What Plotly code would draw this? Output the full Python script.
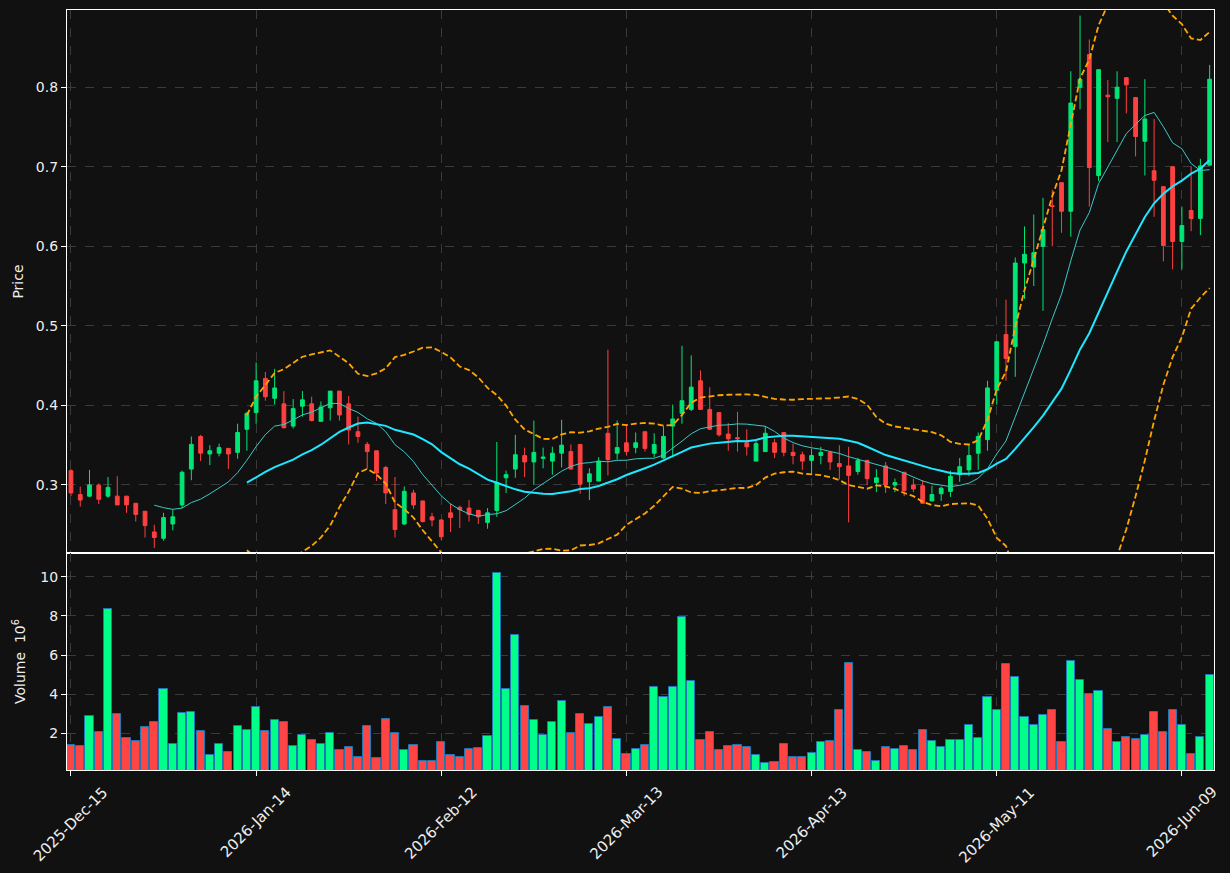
import pandas as pd
import plotly.graph_objects as go
from plotly.subplots import make_subplots

# ---- data ----
tick_labels = ["2025-Dec-15", "2026-Jan-14", "2026-Feb-12", "2026-Mar-13",
               "2026-Apr-13", "2026-May-11", "2026-Jun-09"]
tick_index = [0, 20, 40, 60, 80, 100, 120]

open_ = [0.318, 0.288, 0.286, 0.300, 0.286, 0.286, 0.286, 0.277, 0.267, 0.241,
         0.233, 0.251, 0.275, 0.320, 0.361, 0.339, 0.340, 0.346, 0.341, 0.370,
         0.391, 0.434, 0.409, 0.402, 0.374, 0.399, 0.402, 0.380, 0.397, 0.418,
         0.402, 0.367, 0.351, 0.343, 0.322, 0.269, 0.251, 0.290, 0.280, 0.260,
         0.256, 0.265, 0.272, 0.271, 0.268, 0.253, 0.268, 0.309, 0.320, 0.337,
         0.329, 0.3335, 0.330, 0.340, 0.342, 0.351, 0.304, 0.305, 0.365, 0.340,
         0.353, 0.347, 0.367, 0.340, 0.334, 0.374, 0.390, 0.395, 0.431, 0.395,
         0.391, 0.364, 0.3595, 0.353, 0.330, 0.342, 0.353, 0.366, 0.341, 0.338,
         0.331, 0.337, 0.341, 0.327, 0.324, 0.317, 0.331, 0.303, 0.324, 0.300,
         0.316, 0.300, 0.299, 0.280, 0.289, 0.292, 0.313, 0.319, 0.340, 0.357,
         0.419, 0.489, 0.474, 0.579, 0.574, 0.600, 0.651, 0.680, 0.644, 0.800,
         0.841, 0.689, 0.790, 0.786, 0.812, 0.787, 0.732, 0.695, 0.675, 0.700,
         0.606, 0.645, 0.635, 0.702]
high = [0.320, 0.298, 0.319, 0.302, 0.310, 0.311, 0.286, 0.277, 0.267, 0.250,
        0.265, 0.269, 0.318, 0.361, 0.363, 0.350, 0.352, 0.346, 0.377, 0.392,
        0.454, 0.442, 0.446, 0.418, 0.408, 0.418, 0.411, 0.405, 0.418, 0.418,
        0.412, 0.386, 0.354, 0.343, 0.324, 0.310, 0.298, 0.294, 0.280, 0.265,
        0.257, 0.277, 0.274, 0.281, 0.269, 0.271, 0.354, 0.318, 0.363, 0.347,
        0.381, 0.347, 0.348, 0.382, 0.351, 0.351, 0.321, 0.335, 0.470, 0.381,
        0.376, 0.366, 0.367, 0.365, 0.374, 0.401, 0.475, 0.463, 0.444, 0.423,
        0.391, 0.378, 0.392, 0.370, 0.355, 0.374, 0.358, 0.366, 0.352, 0.342,
        0.345, 0.348, 0.343, 0.350, 0.348, 0.334, 0.331, 0.320, 0.329, 0.308,
        0.316, 0.308, 0.306, 0.299, 0.298, 0.318, 0.334, 0.351, 0.366, 0.431,
        0.480, 0.533, 0.586, 0.625, 0.640, 0.661, 0.671, 0.680, 0.820, 0.890,
        0.860, 0.822, 0.809, 0.820, 0.812, 0.787, 0.810, 0.760, 0.675, 0.700,
        0.650, 0.700, 0.710, 0.828]
low = [0.286, 0.273, 0.285, 0.276, 0.284, 0.275, 0.265, 0.254, 0.234, 0.221,
       0.230, 0.243, 0.271, 0.306, 0.330, 0.325, 0.336, 0.320, 0.333, 0.343,
       0.377, 0.406, 0.401, 0.371, 0.371, 0.386, 0.380, 0.380, 0.381, 0.381,
       0.351, 0.353, 0.320, 0.305, 0.276, 0.234, 0.250, 0.270, 0.253, 0.248,
       0.231, 0.241, 0.246, 0.254, 0.251, 0.245, 0.260, 0.290, 0.309, 0.310,
       0.300, 0.321, 0.313, 0.322, 0.320, 0.289, 0.281, 0.305, 0.312, 0.332,
       0.337, 0.340, 0.342, 0.335, 0.333, 0.335, 0.377, 0.393, 0.395, 0.370,
       0.361, 0.343, 0.342, 0.337, 0.330, 0.342, 0.334, 0.336, 0.326, 0.319,
       0.314, 0.326, 0.319, 0.307, 0.253, 0.313, 0.300, 0.291, 0.290, 0.291,
       0.286, 0.291, 0.277, 0.280, 0.280, 0.285, 0.304, 0.311, 0.319, 0.343,
       0.401, 0.431, 0.436, 0.534, 0.550, 0.519, 0.600, 0.617, 0.612, 0.772,
       0.650, 0.682, 0.731, 0.731, 0.767, 0.713, 0.689, 0.637, 0.581, 0.571,
       0.571, 0.619, 0.614, 0.702]
close = [0.290, 0.281, 0.300, 0.282, 0.297, 0.275, 0.275, 0.263, 0.249, 0.234,
         0.259, 0.260, 0.316, 0.351, 0.340, 0.343, 0.347, 0.339, 0.366, 0.390,
         0.431, 0.411, 0.422, 0.372, 0.396, 0.407, 0.381, 0.398, 0.418, 0.388,
         0.369, 0.361, 0.342, 0.315, 0.290, 0.244, 0.292, 0.275, 0.254, 0.256,
         0.235, 0.259, 0.269, 0.263, 0.260, 0.265, 0.303, 0.313, 0.338, 0.329,
         0.341, 0.335, 0.340, 0.350, 0.320, 0.301, 0.314, 0.330, 0.332, 0.347,
         0.342, 0.353, 0.346, 0.351, 0.361, 0.383, 0.406, 0.423, 0.395, 0.370,
         0.363, 0.358, 0.358, 0.348, 0.352, 0.365, 0.341, 0.341, 0.337, 0.330,
         0.337, 0.341, 0.329, 0.323, 0.312, 0.331, 0.308, 0.309, 0.300, 0.303,
         0.293, 0.295, 0.277, 0.288, 0.296, 0.311, 0.323, 0.337, 0.361, 0.422,
         0.480, 0.459, 0.579, 0.590, 0.592, 0.621, 0.650, 0.644, 0.780, 0.810,
         0.699, 0.822, 0.788, 0.800, 0.803, 0.738, 0.760, 0.683, 0.601, 0.606,
         0.626, 0.635, 0.701, 0.810]
volume_m = [1.39, 1.34, 2.87, 2.05, 8.33, 2.97, 1.74, 1.59, 2.31, 2.56,
            4.25, 1.44, 3.06, 3.11, 2.10, 0.88, 1.44, 1.03, 2.36, 2.15,
            3.33, 2.10, 2.66, 2.56, 1.34, 1.90, 1.64, 1.44, 2.00, 1.13,
            1.29, 0.77, 2.36, 0.72, 2.71, 2.00, 1.13, 1.39, 0.57, 0.57,
            1.54, 0.88, 0.77, 1.18, 1.23, 1.85, 10.17, 4.25, 7.01, 3.38,
            2.66, 1.90, 2.56, 3.63, 2.00, 2.97, 2.46, 2.82, 3.33, 1.69,
            0.93, 1.18, 1.39, 4.35, 3.84, 4.35, 7.92, 4.66, 1.64, 2.05,
            1.13, 1.34, 1.39, 1.29, 0.88, 0.47, 0.52, 1.44, 0.77, 0.77,
            0.98, 1.54, 1.59, 3.17, 5.57, 1.13, 1.03, 0.57, 1.29, 1.18,
            1.34, 1.13, 2.15, 1.59, 1.29, 1.64, 1.64, 2.41, 1.74, 3.84,
            3.17, 5.52, 4.86, 2.82, 2.41, 2.92, 3.17, 1.54, 5.68, 4.71,
            3.99, 4.14, 2.20, 1.54, 1.80, 1.69, 1.90, 3.07, 2.05, 3.17,
            2.41, 0.93, 1.80, 4.96]

# ---- derived series ----
x = list(range(len(close)))
s = pd.Series(close)
ma10 = s.rolling(10).mean()
ma20 = s.rolling(20).mean()
sd20 = s.rolling(20).std(ddof=0)
bb_up = ma20 + 2 * sd20
bb_lo = ma20 - 2 * sd20

UP_C = "#00e676"
DN_C = "#ff4040"
VOL_UP = "#00ff88"
VOL_DN = "#ff4444"
vol_colors = [VOL_UP if c >= o else VOL_DN for o, c in zip(open_, close)]

BG = "#111111"
GRID = "#3a3a3a"
TXT = "#eeeeee"
FONT = "DejaVu Sans"

fig = make_subplots(rows=2, cols=1, shared_xaxes=True, vertical_spacing=0,
                    row_heights=[0.7145, 0.2855])

fig.add_trace(go.Candlestick(
    x=x, open=open_, high=high, low=low, close=close,
    increasing=dict(fillcolor=UP_C, line=dict(color=UP_C, width=1)),
    decreasing=dict(fillcolor=DN_C, line=dict(color=DN_C, width=1)),
    showlegend=False, name="Price"), row=1, col=1)

fig.add_trace(go.Scatter(x=x, y=bb_up, mode="lines",
                         line=dict(color="#ffa500", width=1.8, dash="6px,3px"),
                         showlegend=False, hoverinfo="skip"), row=1, col=1)
fig.add_trace(go.Scatter(x=x, y=bb_lo, mode="lines",
                         line=dict(color="#ffa500", width=1.8, dash="6px,3px"),
                         showlegend=False, hoverinfo="skip"), row=1, col=1)
fig.add_trace(go.Scatter(x=x, y=ma10, mode="lines",
                         line=dict(color="#3cc8c8", width=1),
                         showlegend=False, name="MA10"), row=1, col=1)
fig.add_trace(go.Scatter(x=x, y=ma20, mode="lines",
                         line=dict(color="#1ee8ff", width=2),
                         showlegend=False, name="MA20"), row=1, col=1)

fig.add_trace(go.Bar(x=x, y=volume_m, width=0.88,
                     marker=dict(color=vol_colors, line=dict(color="#1f77b4", width=1)),
                     showlegend=False, name="Volume"), row=2, col=1)

axis_common = dict(showline=True, mirror=True, linecolor="white", linewidth=1.2,
                   ticks="outside", tickcolor="white", ticklen=5, tickwidth=1,
                   showgrid=True, gridcolor=GRID, griddash="dash", gridwidth=1,
                   zeroline=False, automargin=False,
                   tickfont=dict(color=TXT, size=14, family=FONT))

fig.update_xaxes(**axis_common, range=[-0.43, 123.47], tickmode="array",
                 tickvals=tick_index, ticktext=tick_labels)
fig.update_xaxes(showticklabels=False, rangeslider=dict(visible=False), row=1, col=1)
fig.update_xaxes(showticklabels=False, row=2, col=1)

fig.update_yaxes(**axis_common)
fig.update_yaxes(range=[0.2145, 0.897], tickvals=[0.3, 0.4, 0.5, 0.6, 0.7, 0.8],
                 tickformat=".1f",
                 title=dict(text="Price", font=dict(color=TXT, size=14, family=FONT),
                            standoff=8),
                 row=1, col=1)
fig.update_yaxes(range=[0.13, 11.21], tickvals=[2, 4, 6, 8, 10],
                 title=dict(text="Volume  10<sup>6</sup>",
                            font=dict(color=TXT, size=14, family=FONT), standoff=11),
                 row=2, col=1)

# rotated date labels, centred under their ticks
for ti, tl in zip(tick_index, tick_labels):
    fig.add_annotation(x=ti, y=0, xref="x2", yref="y2 domain", text=tl,
                       showarrow=False, textangle=-45, xanchor="center",
                       yanchor="top", yshift=-12, borderpad=0,
                       font=dict(color=TXT, size=15, family=FONT))

fig.update_layout(width=1230, height=873, paper_bgcolor=BG, plot_bgcolor=BG,
                  margin=dict(l=67, r=16, t=10, b=103), boxgap=0.42,
                  font=dict(family=FONT, color=TXT, size=14),
                  bargap=0)

fig.write_html("out.html")
